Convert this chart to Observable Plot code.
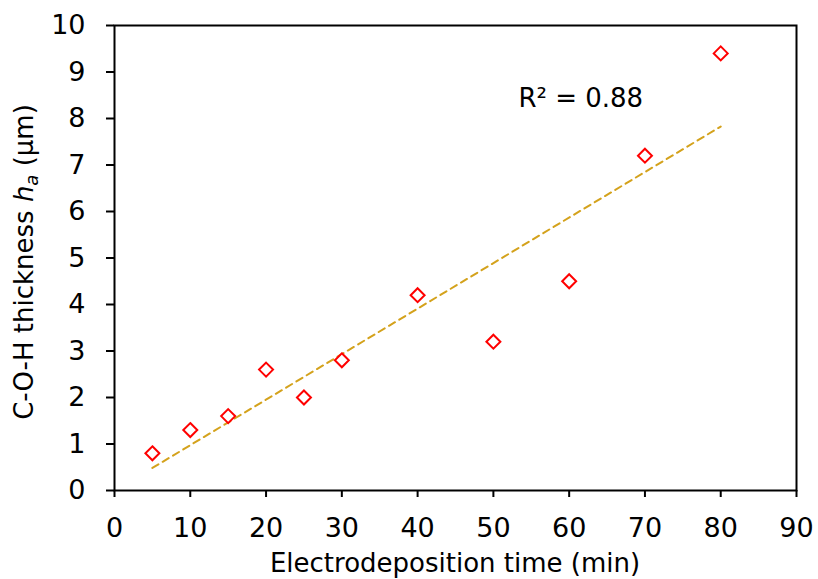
<!DOCTYPE html>
<html>
<head>
<meta charset="utf-8">
<script src="https://cdn.jsdelivr.net/npm/d3@7"></script>
<script src="https://cdn.jsdelivr.net/npm/@observablehq/plot@0.6"></script>
<style>
  html, body { margin: 0; padding: 0; background: #fff; }
</style>
</head>
<body>
<div id="chart"></div>
<script>
const times = [5, 10, 15, 20, 25, 30, 40, 50, 60, 70, 80];
const thickness = [0.8, 1.3, 1.6, 2.6, 2.0, 2.8, 4.2, 3.2, 4.5, 7.2, 9.4];
const xTicks = [0, 10, 20, 30, 40, 50, 60, 70, 80, 90];
const yTicks = [0, 1, 2, 3, 4, 5, 6, 7, 8, 9, 10];
const r2Label = "R² = 0.88";
const xLabel = "Electrodeposition time (min)";
const yLabelParts = ["C-O-H thickness ", "h", "a", " (μm)"];

const data = times.map((t, i) => ({t, h: thickness[i]}));
const font = "'DejaVu Sans', sans-serif";
const tickFs = 27;
const fs = 26;

const chart = Plot.plot({
  width: 818,
  height: 579,
  marginLeft: 114,
  marginRight: 22,
  marginTop: 25,
  marginBottom: 89,
  style: {fontFamily: font, fontSize: fs + "px", color: "#000", background: "#fff"},
  x: {domain: [0, 90]},
  y: {domain: [0, 10]},
  marks: [
    Plot.frame({stroke: "#000", strokeWidth: 2}),
    Plot.axisX({ticks: xTicks, tickSize: 7, tickPadding: 20, label: null, strokeWidth: 2, fontSize: tickFs}),
    Plot.axisY({ticks: yTicks, tickSize: 8, tickPadding: 21, label: null, strokeWidth: 2, fontSize: tickFs}),
    Plot.linearRegressionY(data, {x: "t", y: "h", ci: 0, stroke: "#d4a21c", strokeWidth: 2, strokeDasharray: "7,5"}),
    Plot.dot(data, {x: "t", y: "h", symbol: "diamond2", r: 6.3, stroke: "#ff0000", strokeWidth: 2, fill: "#fff"}),
    Plot.text([r2Label], {x: 53.3, y: 8.43, text: d => d, textAnchor: "start", fontSize: fs, fill: "#000"})
  ]
});

const svg = d3.select(chart);
svg.append("text")
  .attr("x", 455).attr("y", 572)
  .attr("text-anchor", "middle")
  .attr("font-family", font).attr("font-size", fs).attr("fill", "#000")
  .text(xLabel);

const yl = svg.append("text")
  .attr("transform", "translate(33,262) rotate(-90)")
  .attr("text-anchor", "middle")
  .attr("font-family", font).attr("font-size", fs).attr("fill", "#000");
yl.append("tspan").text(yLabelParts[0]);
yl.append("tspan").attr("font-style", "italic").text(yLabelParts[1]);
yl.append("tspan").attr("font-style", "italic").attr("font-size", 18).attr("dy", 5).text(yLabelParts[2]);
yl.append("tspan").attr("dy", -5).text(yLabelParts[3]);

document.getElementById("chart").appendChild(chart);
</script>
</body>
</html>
